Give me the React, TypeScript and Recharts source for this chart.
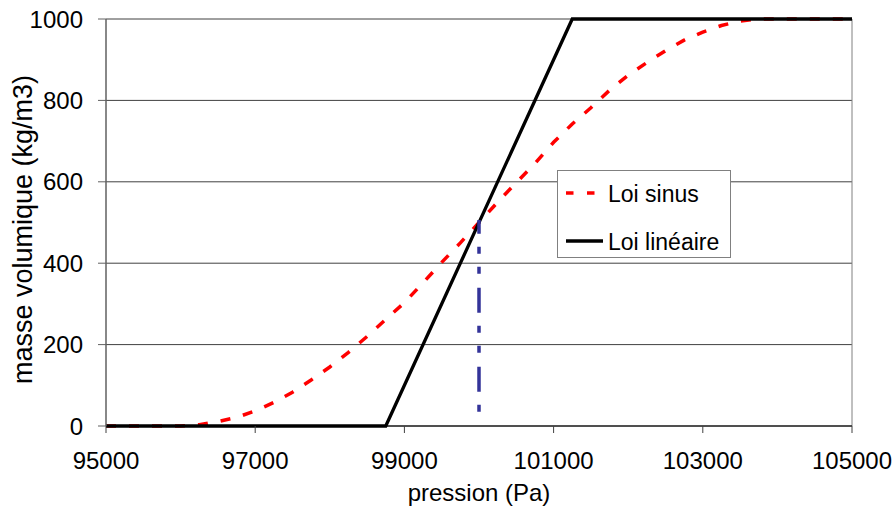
import React from "react";
import { LineChart, Line, XAxis, YAxis, CartesianGrid, Legend, ReferenceLine, Label } from "recharts";

// pression (Pa) / masse volumique (kg/m3)
const sinusP = [
  95000, 95250, 95500, 95750, 96000, 96250, 96500, 96750, 97000, 97250, 97500, 97750, 98000, 98250, 98500,
  98750, 99000, 99250, 99500, 99750, 100000, 100250, 100500, 100750, 101000, 101250, 101500, 101750, 102000,
  102250, 102500, 102750, 103000, 103250, 103500, 103750, 104000, 104250, 104500, 104750, 105000,
];
const sinusRho = [
  0, 0, 0, 0, 0, 3, 11, 21, 37, 58, 83, 113, 145, 181, 220,
  262, 303, 352, 402, 450, 500, 550, 598, 645, 697, 742, 782, 825, 862,
  893, 922, 948, 968, 984, 995, 1000, 1000, 1000, 1000, 1000, 1000,
];
const lineaireP = [95000, 98750, 101250, 105000];
const lineaireRho = [0, 0, 1000, 1000];
const repereP = [100000, 100000];
const repereRho = [35, 506];

const xTicks = [95000, 97000, 99000, 101000, 103000, 105000];
const yTicks = [0, 200, 400, 600, 800, 1000];
const legendOrder = ["Loi sinus", "Loi linéaire"];

const sinusData = sinusP.map((p, i) => ({ p, rho: sinusRho[i] }));
const lineaireData = lineaireP.map((p, i) => ({ p, rho: lineaireRho[i] }));
const repereData = repereP.map((p, i) => ({ p, rho: repereRho[i] }));

const FONT = "Arial, 'Liberation Sans', sans-serif";

const LegendBox = (props: any) => {
  const items = (props.payload || [])
    .filter((e: any) => legendOrder.includes(e.value))
    .sort((a: any, b: any) => legendOrder.indexOf(a.value) - legendOrder.indexOf(b.value));
  return (
    <svg width={174} height={88} style={{ display: "block" }}>
      <rect x={0.5} y={0.5} width={173} height={87} fill="#fff" stroke="#808080" />
      {items.map((e: any, i: number) => {
        const cy = 23 + i * 48;
        const dashed = e.value === "Loi sinus";
        return (
          <g key={e.value}>
            <line
              x1={9}
              x2={dashed ? 38 : 46}
              y1={cy}
              y2={cy}
              stroke={e.color}
              strokeWidth={dashed ? 3.5 : 3.5}
              strokeDasharray={dashed ? "7.5 13.5" : undefined}
            />
            <text x={51} y={cy + 9} fontSize={23} fontFamily={FONT} fill="#000">
              {e.value}
            </text>
          </g>
        );
      })}
    </svg>
  );
};

const YTitle = (props: any) => {
  const vb = props.viewBox || { x: 0, y: 19, width: 106, height: 407 };
  const cx = 22;
  const cy = vb.y + vb.height / 2 + 7;
  return (
    <text
      x={cx}
      y={cy}
      transform={`rotate(-90, ${cx}, ${cy})`}
      textAnchor="middle"
      dy="0.355em"
      fontSize={27}
      fontFamily={FONT}
      fill="#000"
    >
      masse volumique (kg/m3)
    </text>
  );
};

export default function App() {
  return (
    <div style={{ position: "absolute", left: 0, top: 0, background: "#fff" }}>
      <LineChart width={896} height={507} margin={{ top: 19, right: 44, bottom: 0, left: 0 }}>
        <CartesianGrid vertical={false} stroke="#404040" strokeWidth={1} />
        <XAxis
          dataKey="p"
          type="number"
          domain={[95000, 105000]}
          ticks={xTicks}
          allowDataOverflow
          height={81}
          tickSize={7}
          tickMargin={19}
          axisLine={{ stroke: "#000" }}
          tickLine={{ stroke: "#404040" }}
          tick={{ fill: "#000", fontSize: 24, fontFamily: FONT }}
        >
          <Label value="pression (Pa)" position="insideBottom" offset={6} fontSize={24} fontFamily={FONT} fill="#000" />
        </XAxis>
        <YAxis
          dataKey="rho"
          type="number"
          domain={[0, 1000]}
          ticks={yTicks}
          width={106}
          tickSize={8}
          tickMargin={15}
          axisLine={{ stroke: "#606060", strokeWidth: 1.5 }}
          tickLine={{ stroke: "#606060" }}
          tick={{ fill: "#000", fontSize: 24, fontFamily: FONT }}
        >
          <Label content={YTitle} />
        </YAxis>
        <ReferenceLine x={105000} stroke="#808080" strokeWidth={1} />
        <Legend
          layout="vertical"
          align="center"
          verticalAlign="middle"
          wrapperStyle={{ left: 557, top: 170, width: 174, height: 88 }}
          content={LegendBox}
        />
        <Line
          data={sinusData}
          dataKey="rho"
          name="Loi sinus"
          stroke="#ff0000"
          strokeWidth={3.5}
          strokeDasharray="10 13"
          dot={false}
          activeDot={false}
          isAnimationActive={false}
        />
        <Line
          data={lineaireData}
          dataKey="rho"
          name="Loi linéaire"
          stroke="#000000"
          strokeWidth={3.3}
          dot={false}
          activeDot={false}
          isAnimationActive={false}
        />
        <Line
          data={repereData}
          dataKey="rho"
          name="repère"
          legendType="none"
          stroke="#333399"
          strokeWidth={3.5}
          strokeDasharray="7 13 25 14 7 13"
          dot={false}
          activeDot={false}
          isAnimationActive={false}
        />
      </LineChart>
    </div>
  );
}
